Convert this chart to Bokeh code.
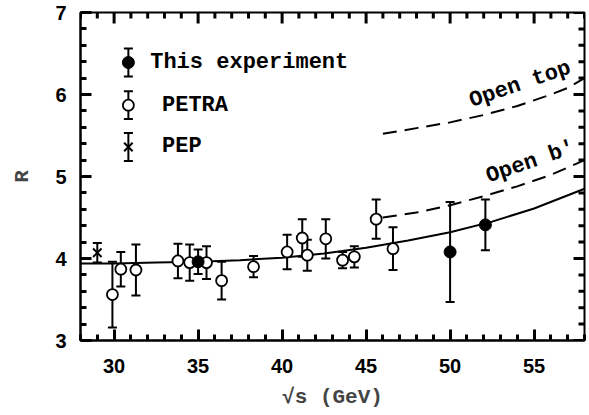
from bokeh.plotting import figure
from bokeh.models import (Range1d, LinearAxis, Whisker, ColumnDataSource, Label,
                          TeeHead, FixedTicker)
from bokeh.embed import file_html
from bokeh.resources import INLINE

# ---------------- data ----------------
this_x = [35.0, 50.0, 52.1]
this_y = [3.96, 4.08, 4.41]
this_err = [0.15, 0.61, 0.31]

petra_x = [29.9, 30.4, 31.3, 33.8, 34.5, 35.5, 36.4, 38.3, 40.3, 41.2, 41.5,
           42.6, 43.6, 44.3, 45.6, 46.6]
petra_y = [3.56, 3.87, 3.86, 3.97, 3.95, 3.95, 3.73, 3.90, 4.08, 4.25, 4.04,
           4.24, 3.98, 4.02, 4.48, 4.12]
petra_err = [0.40, 0.21, 0.31, 0.21, 0.22, 0.20, 0.23, 0.13, 0.21, 0.23, 0.19,
             0.24, 0.10, 0.13, 0.24, 0.26]

pep_x = [29.0]
pep_y = [4.07]
pep_err = [0.12]

curve_x = [28, 30, 32.5, 35, 37.5, 40, 42.5, 45, 47.5, 50, 52.5, 55, 58]
curve_y = [3.94, 3.94, 3.95, 3.96, 3.98, 4.01, 4.06, 4.13, 4.22, 4.32, 4.45, 4.61, 4.85]

openb_x = [46, 48, 50, 52, 54, 56, 58]
openb_y = [4.50, 4.56, 4.65, 4.76, 4.88, 5.02, 5.20]

opentop_x = [46, 48, 50, 52, 54, 56, 57, 58]
opentop_y = [5.52, 5.59, 5.66, 5.75, 5.86, 6.00, 6.08, 6.20]

x_major = [30, 35, 40, 45, 50, 55]
x_minor = [28, 29, 31, 32, 33, 34, 36, 37, 38, 39, 41, 42, 43, 44, 46, 47, 48,
           49, 51, 52, 53, 54, 56, 57, 58]
y_major = [3, 4, 5, 6, 7]
y_minor = [3.2, 3.4, 3.6, 3.8, 4.2, 4.4, 4.6, 4.8, 5.2, 5.4, 5.6, 5.8,
           6.2, 6.4, 6.6, 6.8]

legend_names = ["This experiment", "PETRA", "PEP"]

# ---------------- figure ----------------
MONO = "Liberation Mono"
SANS = "Liberation Sans"
X0, X1, Y0, Y1 = 28, 58, 3, 7
FW, FH = 504, 328

p = figure(frame_width=FW, frame_height=FH,
           x_range=Range1d(X0, X1), y_range=Range1d(Y0, Y1),
           x_axis_type=None, y_axis_type=None,
           output_backend="svg", toolbar_location=None,
           min_border_left=80, min_border_right=5, min_border_top=12,
           min_border_bottom=74)
p.outline_line_color = "black"
p.outline_line_width = 2

MAJ, MIN = 11, 6
TW = 3


def style(ax):
    ax.axis_line_width = 2
    ax.axis_line_color = "black"
    ax.major_tick_in = MAJ
    ax.major_tick_out = 0
    ax.minor_tick_in = MIN
    ax.minor_tick_out = 0
    ax.major_tick_line_color = "black"
    ax.minor_tick_line_color = "black"
    ax.major_tick_line_width = TW
    ax.minor_tick_line_width = TW
    ax.major_label_text_font = SANS
    ax.major_label_text_font_style = "bold"
    ax.major_label_text_font_size = "20px"
    ax.major_label_text_color = "black"


xb = LinearAxis(ticker=FixedTicker(ticks=x_major, minor_ticks=x_minor))
style(xb)
xb.major_label_standoff = 18
xb.axis_label = "√s (GeV)"
xb.axis_label_text_font = MONO
xb.axis_label_text_font_style = "bold"
xb.axis_label_text_font_size = "21px"
xb.axis_label_standoff = 10
p.add_layout(xb, "below")

yl = LinearAxis(ticker=FixedTicker(ticks=y_major, minor_ticks=y_minor))
style(yl)
yl.major_label_standoff = 14
yl.axis_label = "R"
yl.axis_label_text_font = MONO
yl.axis_label_text_font_style = "bold"
yl.axis_label_text_font_size = "21px"
yl.axis_label_standoff = 18
p.add_layout(yl, "left")

# ---------------- inward ticks on top and right (dash markers) ----------------
px_x = (X1 - X0) / FW   # data units per pixel, x
px_y = (Y1 - Y0) / FH   # data units per pixel, y

for vals, L in ((x_major, MAJ), (x_minor, MIN)):
    p.scatter(x=vals, y=[Y1 - L / 2 * px_y] * len(vals),
              marker="dash", size=L, angle=90, angle_units="deg",
              line_color="black", line_width=TW)
for vals, L in ((y_major, MAJ), (y_minor, MIN)):
    p.scatter(x=[X1 - L / 2 * px_x] * len(vals), y=vals,
              marker="dash", size=L, line_color="black", line_width=TW)

# ---------------- curves ----------------
p.line(curve_x, curve_y, line_color="black", line_width=2)
p.line(openb_x, openb_y, line_color="black", line_width=2, line_dash="14 8")
p.line(opentop_x, opentop_y, line_color="black", line_width=2, line_dash="14 8")


# ---------------- error bars ----------------
def errbars(xs, ys, es):
    src = ColumnDataSource(dict(x=xs, up=[y + e for y, e in zip(ys, es)],
                                lo=[y - e for y, e in zip(ys, es)]))
    w = Whisker(source=src, base="x", upper="up", lower="lo", dimension="height",
                line_color="black", line_width=2,
                upper_head=TeeHead(size=9, line_width=2, line_color="black"),
                lower_head=TeeHead(size=9, line_width=2, line_color="black"))
    p.add_layout(w)


errbars(petra_x, petra_y, petra_err)
errbars(this_x, this_y, this_err)
errbars(pep_x, pep_y, pep_err)

p.scatter(petra_x, petra_y, marker="circle", size=11, fill_color="white",
          line_color="black", line_width=1.8, level="overlay")
p.scatter(this_x, this_y, marker="circle", size=12, fill_color="black",
          line_color="black", line_width=1, level="overlay")
p.scatter(pep_x, pep_y, marker="x", size=12, line_color="black", line_width=2,
          level="overlay")

# ---------------- legend (manual) ----------------
leg_mx = 30.85
leg_tx = [32.15, 32.85, 32.85]
leg_y = [6.39, 5.87, 5.36]
leg_e = [0.17, 0.17, 0.17]
errbars([leg_mx] * 3, leg_y, leg_e)
p.scatter([leg_mx], [leg_y[0]], marker="circle", size=12, fill_color="black",
          line_color="black", level="overlay")
p.scatter([leg_mx], [leg_y[1]], marker="circle", size=11, fill_color="white",
          line_color="black", line_width=1.8, level="overlay")
p.scatter([leg_mx], [leg_y[2]], marker="x", size=12, line_color="black",
          line_width=2, level="overlay")
for name, tx, ty in zip(legend_names, leg_tx, leg_y):
    p.add_layout(Label(x=tx, y=ty, text=name, text_font=MONO, text_font_style="bold",
                       text_font_size="22px", text_baseline="middle",
                       text_align="left", text_color="black"))

# ---------------- curve labels ----------------
p.add_layout(Label(x=51.2, y=5.91, text="Open top", angle=19, angle_units="deg",
                   text_font=MONO, text_font_style="bold", text_font_size="22px",
                   text_baseline="alphabetic", text_align="left", text_color="black"))
p.add_layout(Label(x=52.2, y=4.99, text="Open b'", angle=19, angle_units="deg",
                   text_font=MONO, text_font_style="bold", text_font_size="22px",
                   text_baseline="alphabetic", text_align="left", text_color="black"))

open("out.html", "w").write(file_html(p, INLINE))
